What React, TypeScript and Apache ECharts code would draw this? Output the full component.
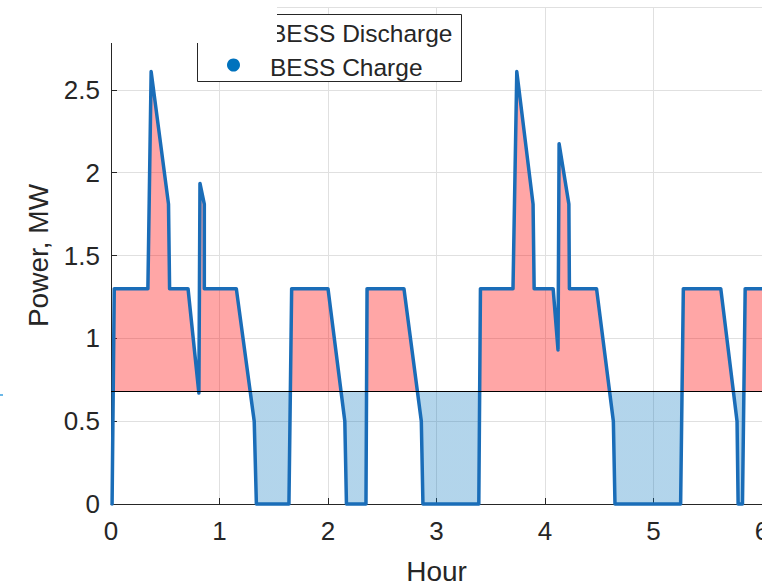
import React, { useEffect, useRef } from "react";
import * as echarts from "echarts";

// Hour values of the BESS power trace
const hours = [
  0.01, 0.03, 0.34, 0.37, 0.53, 0.54, 0.71, 0.81, 0.82, 0.86, 0.86, 1.155, 1.32, 1.34,
  1.64, 1.665, 2.0, 2.155, 2.17, 2.35, 2.36, 2.7, 2.86, 2.875, 3.39, 3.405, 3.705, 3.74,
  3.89, 3.9, 4.075, 4.12, 4.13, 4.22, 4.225, 4.475, 4.63, 4.645, 5.25, 5.275, 5.62, 5.77,
  5.78, 5.82, 5.845, 6.0,
];
// Power values, MW
const power = [
  0, 1.3, 1.3, 2.61, 1.81, 1.3, 1.3, 0.67, 1.935, 1.81, 1.3, 1.3, 0.5, 0,
  0, 1.3, 1.3, 0.5, 0, 0, 1.3, 1.3, 0.5, 0, 0, 1.3, 1.3, 2.61,
  1.81, 1.3, 1.3, 0.93, 2.175, 1.81, 1.3, 1.3, 0.5, 0, 0, 1.3, 1.3, 0.5,
  0, 0, 1.3, 1.3,
];
// Threshold level separating discharge / charge
const thresholdLevel = 0.68;
const legendLabels = ["BESS Discharge", "BESS Charge"];
const xTicks = { min: 0, max: 6, interval: 1 };
const yTicks = { min: 0, max: 3, interval: 0.5 };

const FONT = "'Liberation Sans', Arial, Helvetica, sans-serif";
const INK = "#262626";
const GRID = { left: 111, right: 0, top: 7, bottom: 83 };
const H = 587;

export default function App() {
  const ref = useRef<HTMLDivElement>(null);

  useEffect(() => {
    if (!ref.current) return;
    const chart = echarts.init(ref.current, undefined, { renderer: "svg" });
    const data = hours.map((h, i) => [h, power[i]]);

    const yTop = GRID.top;
    const yBottom = H - GRID.bottom;
    const off = (yTicks.max - thresholdLevel) / (yTicks.max - yTicks.min);
    const red = "rgba(255,0,0,0.35)";
    const blue = "rgba(0,114,189,0.3)";
    const fillGradient = new echarts.graphic.LinearGradient(
      0,
      yTop,
      0,
      yBottom,
      [
        { offset: 0, color: red },
        { offset: off, color: red },
        { offset: off, color: blue },
        { offset: 1, color: blue },
      ],
      true
    );

    chart.setOption({
      animation: false,
      backgroundColor: "#ffffff",
      grid: { ...GRID, containLabel: false, outerBoundsMode: "none" },
      xAxis: {
        type: "value",
        min: xTicks.min,
        max: xTicks.max,
        interval: xTicks.interval,
        name: "Hour",
        nameLocation: "middle",
        nameGap: 53,
        nameTextStyle: { fontSize: 28, color: INK, fontFamily: FONT },
        axisLine: { show: true, onZero: false, lineStyle: { color: INK, width: 1 } },
        axisTick: { show: true, inside: true, length: 6, lineStyle: { color: INK } },
        axisLabel: { fontSize: 26, color: INK, fontFamily: FONT, margin: 14 },
        splitLine: { show: true, lineStyle: { color: "#e0e0e0", width: 1 } },
      },
      yAxis: {
        type: "value",
        min: yTicks.min,
        max: yTicks.max,
        interval: yTicks.interval,
        name: "Power, MW",
        nameLocation: "middle",
        nameRotate: 90,
        nameGap: 58,
        nameTextStyle: { fontSize: 28, color: INK, fontFamily: FONT },
        axisLine: { show: true, onZero: false, lineStyle: { color: INK, width: 1 } },
        axisTick: { show: true, inside: true, length: 6, lineStyle: { color: INK } },
        axisLabel: {
          fontSize: 26,
          color: INK,
          fontFamily: FONT,
          margin: 11,
          formatter: (v: number) => (v >= yTicks.max ? "" : String(v)),
        },
        splitLine: { show: true, lineStyle: { color: "#e0e0e0", width: 1 } },
      },
      series: [
        {
          name: "fill",
          type: "line",
          data,
          z: 2,
          clip: false,
          showSymbol: false,
          symbol: "none",
          lineStyle: { width: 0, opacity: 0 },
          areaStyle: { origin: thresholdLevel, opacity: 1, color: fillGradient },
          markLine: {
            silent: true,
            symbol: "none",
            label: { show: false },
            lineStyle: { color: "#000000", width: 1, type: "solid" },
            data: [{ yAxis: thresholdLevel }],
          },
        },
        {
          name: "power",
          type: "line",
          data,
          z: 3,
          clip: false,
          showSymbol: false,
          symbol: "none",
          lineStyle: { color: "#1a6db8", width: 3.5, join: "round", cap: "round" },
        },
      ],
      graphic: [
        {
          type: "rect",
          z: 100,
          shape: { x: 197.5, y: 14.5, width: 264, height: 67 },
          style: { fill: "#ffffff", stroke: INK, lineWidth: 1 },
        },
        {
          type: "text",
          z: 101,
          x: 270,
          y: 33,
          style: {
            text: legendLabels[0],
            fontSize: 24.5,
            fontFamily: FONT,
            fill: INK,
            verticalAlign: "middle",
            align: "left",
          },
        },
        {
          type: "circle",
          z: 101,
          shape: { cx: 233.5, cy: 65, r: 6.5 },
          style: { fill: "#0072BD" },
        },
        {
          type: "text",
          z: 101,
          x: 270,
          y: 67,
          style: {
            text: legendLabels[1],
            fontSize: 24.5,
            fontFamily: FONT,
            fill: INK,
            verticalAlign: "middle",
            align: "left",
          },
        },
        {
          type: "rect",
          z: 102,
          shape: { x: 0, y: 0, width: 277, height: 43 },
          style: { fill: "#ffffff" },
        },
        {
          type: "line",
          z: 102,
          shape: { x1: 0, y1: 395, x2: 3, y2: 395 },
          style: { stroke: "#3aa0e0", lineWidth: 1.5 },
        },
      ],
    });

    return () => chart.dispose();
  }, []);

  return (
    <div
      ref={ref}
      style={{ position: "absolute", left: 0, top: 0, width: 762, height: 587 }}
    />
  );
}
